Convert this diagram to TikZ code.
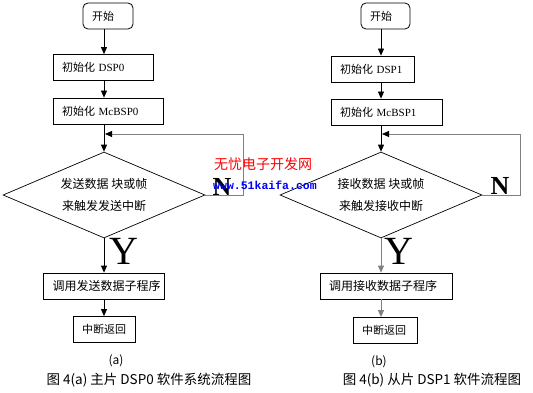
\documentclass[tikz,border=0pt]{standalone}
\usepackage{fontspec}
\setmainfont{Liberation Serif}
\setmonofont{Liberation Mono}
\newfontfamily\cjk{Noto Sans CJK SC}
\usetikzlibrary{shapes.geometric,arrows.meta}
\begin{document}
\begin{tikzpicture}[x=1pt,y=-1pt,
  box/.style={draw,line width=0.8pt,inner xsep=9pt,inner ysep=0pt,minimum height=26pt,align=left,font=\fontsize{11}{13}\selectfont},
  dec/.style={draw,diamond,line width=0.7pt,aspect=2.35,inner sep=0pt,minimum width=202pt,minimum height=86pt,align=center,font=\cjk\fontsize{12}{22}\selectfont},
  arr/.style={line width=0.8pt,-{Triangle[length=7pt,width=6pt]}},
  back/.style={line width=0.8pt,draw=gray,-{Triangle[length=7pt,width=6pt,color=black]}},
  yes/.style={font=\fontsize{40}{40}\selectfont},
  no/.style={font=\bfseries\fontsize{26}{26}\selectfont}]
\fill[white] (0,0) rectangle (533,393);
\useasboundingbox (0,0) rectangle (533,393);
% left: master DSP0
\node[box,rounded corners=5pt,text width=32pt] (starta) at (108,16) {{\cjk 开始}};
\node[box,text width=82pt] (dspa) at (103,67.5) {{\cjk 初始化} DSP0};
\node[box,text width=92pt] (mcbspa) at (108,111) {{\cjk 初始化} McBSP0};
\node[dec] (deca) at (104,195) {发送数据 块或帧\\来触发发送中断};
\node[box,text width=103pt,font=\fontsize{12}{13}\selectfont] (calla) at (104,286) {{\cjk 调用发送数据子程序}};
\node[box,text width=44pt] (reta) at (104,329.5) {{\cjk 中断返回}};
\node[yes] (ya) at (124,251) {Y};
\node[no] (na) at (222,187) {N};
\coordinate (turna) at (243,134);
\coordinate (backa) at (105,134);
\draw[arr] (starta.south -| deca.north) -- (dspa.north -| deca.north);
\draw[arr] (dspa.south -| deca.north) -- (mcbspa.north -| deca.north);
\draw[arr] (mcbspa.south -| deca.north) -- (deca.north);
\draw[arr] (deca.south) -- (calla.north);
\draw[arr] (calla.south) -- (reta.north);
\draw[back] (deca.east) -| (turna) -- (backa);
\node[font=\cjk\fontsize{12}{12}\selectfont] (suba) at (116,361) {(a)};
\node[font=\cjk\fontsize{13.5}{14}\selectfont] (capa) at (149,380) {图 4(a) 主片 DSP0 软件系统流程图};
% right: slave DSP1
\node[box,rounded corners=5pt,text width=31pt] (startb) at (385.5,16) {{\cjk 开始}};
\node[box,text width=65pt] (dspb) at (372.5,69) {{\cjk 初始化} DSP1};
\node[box,text width=93pt] (mcbspb) at (386.5,112) {{\cjk 初始化} McBSP1};
\node[dec] (decb) at (381,195) {接收数据 块或帧\\来触发接收中断};
\node[box,text width=114pt,font=\fontsize{12}{13}\selectfont] (callb) at (386,286) {{\cjk 调用接收数据子程序}};
\node[box,text width=46pt] (retb) at (385,330.5) {{\cjk 中断返回}};
\node[yes] (yb) at (399,251) {Y};
\node[no] (nb) at (500,186) {N};
\coordinate (turnb) at (520,134);
\coordinate (backb) at (382,134);
\draw[arr] (startb.south -| decb.north) -- (dspb.north -| decb.north);
\draw[arr] (dspb.south -| decb.north) -- (mcbspb.north -| decb.north);
\draw[arr] (mcbspb.south -| decb.north) -- (decb.north);
\draw[arr,draw=gray] (decb.south) -- (callb.north -| decb.south);
\draw[arr,draw=gray] (callb.south -| decb.south) -- (retb.north -| decb.south);
\draw[back] (decb.east) -| (turnb) -- (backb);
\node[font=\cjk\fontsize{12}{12}\selectfont] (subb) at (379,362) {(b)};
\node[font=\cjk\fontsize{13.5}{14}\selectfont] (capb) at (432,380) {图 4(b) 从片 DSP1 软件流程图};
% site mark
\node[text=red,font=\cjk\fontsize{14}{14}\selectfont] (marka) at (263,164) {无忧电子开发网};
\node[text=blue,font=\ttfamily\bfseries\fontsize{11.5}{12}\selectfont] (markb) at (265,185) {www.51kaifa.com};
\end{tikzpicture}
\end{document}
